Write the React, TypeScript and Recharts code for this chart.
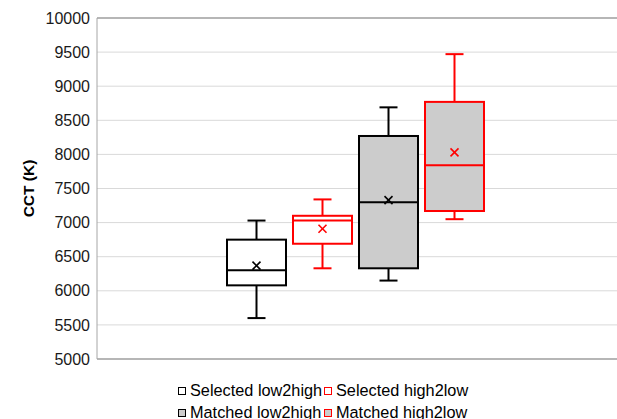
import React from 'react';
import { ComposedChart, Bar, XAxis, YAxis, CartesianGrid, ReferenceLine, Legend } from 'recharts';

const seriesNames = ['Selected low2high', 'Selected high2low', 'Matched low2high', 'Matched high2low'];
const strokes = ['#000000', '#ff0000', '#000000', '#ff0000'];
const fills = ['#ffffff', '#ffffff', '#cccccc', '#cccccc'];
const mins = [5600, 6330, 6150, 7050];
const q1s = [6080, 6690, 6330, 7170];
const medians = [6300, 7030, 7300, 7840];
const q3s = [6750, 7100, 8270, 8770];
const maxs = [7030, 7340, 8690, 9470];
const means = [6370, 6910, 7330, 8030];
const yTicks = [5000, 5500, 6000, 6500, 7000, 7500, 8000, 8500, 9000, 9500, 10000];

const row: Record<string, any> = { name: 'CCT' };
seriesNames.forEach((_, i) => {
  row[`base${i}`] = mins[i];
  row[`lw${i}`] = q1s[i] - mins[i];
  row[`box${i}`] = q3s[i] - q1s[i];
  row[`uw${i}`] = maxs[i] - q3s[i];
});
const data = [row];

const FONT = '"Liberation Sans", Arial, sans-serif';

const Empty = () => null;

const makeLowWhisker = (i: number) => (p: any) => {
  const cx = p.x + p.width / 2;
  return (
    <g>
      <line x1={cx} x2={cx} y1={p.y} y2={p.y + p.height} stroke={strokes[i]} strokeWidth={2} />
      <line x1={cx - 9} x2={cx + 9} y1={p.y + p.height} y2={p.y + p.height} stroke={strokes[i]} strokeWidth={2} />
    </g>
  );
};

const makeHighWhisker = (i: number) => (p: any) => {
  const cx = p.x + p.width / 2;
  return (
    <g>
      <line x1={cx} x2={cx} y1={p.y} y2={p.y + p.height} stroke={strokes[i]} strokeWidth={2} />
      <line x1={cx - 9} x2={cx + 9} y1={p.y} y2={p.y} stroke={strokes[i]} strokeWidth={2} />
    </g>
  );
};

const makeBox = (i: number) => (p: any) => {
  const cx = p.x + p.width / 2;
  const ppu = p.height / (q3s[i] - q1s[i]);
  const my = p.y + (q3s[i] - medians[i]) * ppu;
  const mean = p.y + (q3s[i] - means[i]) * ppu;
  const s = 4;
  return (
    <g>
      <rect x={p.x} y={p.y} width={p.width} height={p.height} fill={fills[i]} stroke={strokes[i]} strokeWidth={2} />
      <line x1={p.x} x2={p.x + p.width} y1={my} y2={my} stroke={strokes[i]} strokeWidth={2} />
      <line x1={cx - s} x2={cx + s} y1={mean - s} y2={mean + s} stroke={strokes[i]} strokeWidth={1.6} />
      <line x1={cx - s} x2={cx + s} y1={mean + s} y2={mean - s} stroke={strokes[i]} strokeWidth={1.6} />
    </g>
  );
};

const LegendContent = () => (
  <div style={{ fontFamily: FONT, fontSize: 16.3, color: '#000', width: 320 }}>
    {[0, 1].map((r) => (
      <div key={r} style={{ display: 'flex', height: 22, alignItems: 'center' }}>
        {[0, 1].map((c) => {
          const i = r * 2 + c;
          return (
            <div key={c} style={{ display: 'flex', alignItems: 'center', width: 146, whiteSpace: 'nowrap' }}>
              <span
                style={{
                  display: 'inline-block',
                  width: 6,
                  height: 6,
                  border: `1.5px solid ${strokes[i]}`,
                  background: fills[i],
                  marginRight: 4,
                  marginTop: 2,
                }}
              />
              <span>{seriesNames[i]}</span>
            </div>
          );
        })}
      </div>
    ))}
  </div>
);

const YLabel = (props: any) => {
  const vb = props.viewBox || { x: 0, y: 18, width: 97, height: 341 };
  const cy = vb.y + vb.height / 2;
  return (
    <text
      x={28}
      y={cy}
      transform={`rotate(-90, 28, ${cy})`}
      textAnchor="middle"
      dominantBaseline="central"
      fontFamily={FONT}
      fontSize={15.5}
      fontWeight="bold"
      fill="#000"
    >
      CCT (K)
    </text>
  );
};

export default function App() {
  return (
    <div style={{ position: 'absolute', left: 0, top: 0, width: 617, height: 419, overflow: 'hidden', background: '#fff' }}>
      <ComposedChart
        width={617}
        height={419}
        data={data}
        margin={{ top: 18, right: 0, bottom: 60, left: 0 }}
        barSize={59}
        barGap={7}
      >
        <CartesianGrid vertical={false} stroke="#d9d9d9" />
        <XAxis dataKey="name" hide padding={{ left: 0, right: 3 }} />
        <YAxis
          width={97}
          domain={[5000, 10000]}
          allowDataOverflow
          ticks={yTicks}
          interval={0}
          tickLine={false}
          tickMargin={1}
          axisLine={{ stroke: '#a6a6a6' }}
          tick={{ fontFamily: FONT, fontSize: 16, fill: '#1a1a1a' }}
          label={<YLabel />}
        />
        <ReferenceLine y={10000} stroke="#808080" />
        <ReferenceLine y={5000} stroke="#808080" />
        {seriesNames.map((n, i) => [
          <Bar key={`b${i}`} dataKey={`base${i}`} stackId={`s${i}`} shape={Empty} isAnimationActive={false} legendType="none" />,
          <Bar key={`l${i}`} dataKey={`lw${i}`} stackId={`s${i}`} shape={makeLowWhisker(i)} isAnimationActive={false} legendType="none" />,
          <Bar key={`x${i}`} dataKey={`box${i}`} name={n} stackId={`s${i}`} shape={makeBox(i)} isAnimationActive={false} />,
          <Bar key={`u${i}`} dataKey={`uw${i}`} stackId={`s${i}`} shape={makeHighWhisker(i)} isAnimationActive={false} legendType="none" />,
        ])}
        <Legend
          layout="horizontal"
          verticalAlign="middle"
          align="center"
          content={<LegendContent />}
          wrapperStyle={{ position: 'absolute', left: 178, top: 379, width: 320 }}
        />
      </ComposedChart>
    </div>
  );
}
